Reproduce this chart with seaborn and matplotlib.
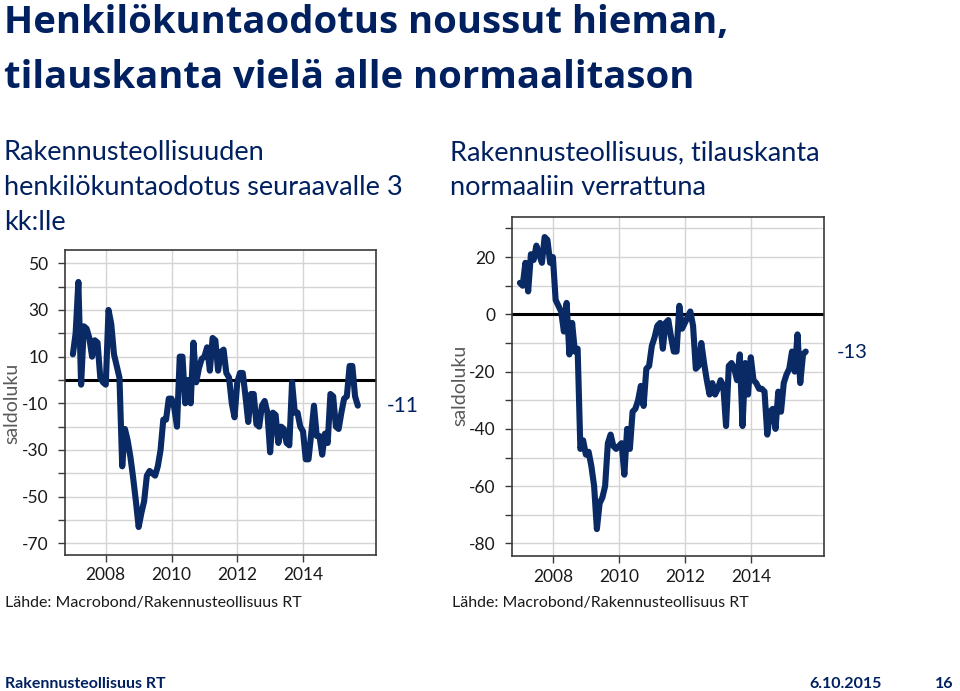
import numpy as np
import pandas as pd
import matplotlib
matplotlib.use("Agg")
import matplotlib.pyplot as plt
import seaborn as sns

# ---------------- data ----------------
start_month = "2007-01"
n_months = 105

staff_expectation = [
    11, 20, 42, -2, 23, 22, 18, 10, 17, 16, 1, -1, -2, 30, 24, 11, 6, 1, -37, -21,
    -26, -33, -42, -52, -63, -57, -52, -41, -39, -40, -41, -37, -30, -17, -17, -8, -8, -12, -20, 10,
    10, -10, 0, -10, 16, -1, 5, 9, 10, 14, 4, 18, 17, 4, 12, 13, 3, 1, -10, -16,
    -1, 3, 3, -7, -18, -6, -6, -19, -20, -11, -9, -14, -31, -14, -15, -27, -20, -21, -27, -28,
    -1, -14, -14, -20, -22, -34, -34, -23, -11, -24, -24, -32, -23, -27, -6, -7, -20, -21, -14, -8,
    -7, 6, 6, -7, -11,
]

order_book = [
    11, 10, 18, 8, 21, 19, 24, 21, 18, 27, 26, 18, 20, 5, 3, 1, -6, 4, -14, -3,
    -13, -12, -47, -44, -49, -48, -53, -60, -75, -66, -64, -60, -45, -42, -46, -47, -46, -45, -56, -40,
    -47, -34, -33, -30, -25, -32, -19, -18, -11, -8, -4, -3, -12, -3, -2, -8, -13, -13, 3, -5,
    -3, -1, 1, -4, -19, -18, -10, -17, -23, -28, -24, -28, -26, -23, -25, -39, -18, -17, -19, -23,
    -14, -39, -17, -28, -15, -23, -24, -26, -26, -27, -42, -34, -33, -40, -27, -34, -24, -21, -19, -13,
    -20, -7, -24, -14, -13,
]

year_ticks = [2008, 2010, 2012, 2014]
left_yticks = [50, 40, 30, 20, 10, 0, -10, -20, -30, -40, -50, -60, -70]
left_ylabels = ["50", "", "30", "", "10", "", "-10", "", "-30", "", "-50", "", "-70"]
right_yticks = [30, 20, 10, 0, -10, -20, -30, -40, -50, -60, -70, -80]
right_ylabels = ["", "20", "", "0", "", "-20", "", "-40", "", "-60", "", "-80"]

title_lines = ["Henkilökuntaodotus noussut hieman,", "tilauskanta vielä alle normaalitason"]
left_subtitle = ["Rakennusteollisuuden", "henkilökuntaodotus seuraavalle 3", "kk:lle"]
right_subtitle = ["Rakennusteollisuus, tilauskanta", "normaaliin verrattuna"]
source_text = "Lähde: Macrobond/Rakennusteollisuus RT"
footer_left = "Rakennusteollisuus RT"
footer_date = "6.10.2015"
footer_page = "16"
y_label = "saldoluku"
left_last_label = "-11"
right_last_label = "-13"

# ---------------- build table ----------------
dates = pd.date_range(start_month, periods=n_months, freq="MS")
t = dates.year + (dates.month - 1) / 12.0
df_left = pd.DataFrame({"t": t, "value": staff_expectation})
df_right = pd.DataFrame({"t": t, "value": order_book})

# ---------------- style ----------------
sns.set_theme(style="white")
plt.rcParams["font.family"] = ["Lato", "DejaVu Sans"]

W, H = 960, 691
fig = plt.figure(figsize=(W / 100, H / 100), dpi=100)
NAVY = "#002060"
LINE = "#0a2a66"
GRID = "#d4d4d4"
TXT = "#1a1a1a"


def px_axes(x0, y0, x1, y1):
    return fig.add_axes([x0 / W, 1 - y1 / H, (x1 - x0) / W, (y1 - y0) / H])


def ftext(x, y, s, **kw):
    fig.text(x / W, 1 - y / H, s, **kw)


def style_axis(ax, yticks, ylabels, ylim):
    ax.set_xlim(2006.76, 2016.22)
    ax.set_ylim(*ylim)
    ax.set_xticks(year_ticks)
    ax.set_xticklabels([str(y) for y in year_ticks])
    ax.set_yticks(yticks)
    ax.set_yticklabels(ylabels)
    ax.grid(True, color=GRID, lw=1.0)
    ax.set_axisbelow(True)
    ax.axhline(0, color="black", lw=2.2, zorder=2)
    for sp in ax.spines.values():
        sp.set_color("#3a3a3a")
        sp.set_linewidth(1.2)
        sp.set_visible(True)
    ax.tick_params(axis="both", direction="out", length=5, width=1, color="#3a3a3a",
                   labelsize=12.5, labelcolor=TXT, bottom=True, left=True)
    ax.tick_params(axis="y", pad=7)
    ax.tick_params(axis="x", pad=4)
    ax.set_xlabel("")
    ax.set_ylabel("")


ax1 = px_axes(65, 250, 376, 555)
sns.lineplot(data=df_left, x="t", y="value", ax=ax1, color=LINE, lw=4.4, zorder=3)
style_axis(ax1, left_yticks, left_ylabels, (-75, 55.7))

ax2 = px_axes(512, 217, 824, 556)
sns.lineplot(data=df_right, x="t", y="value", ax=ax2, color=LINE, lw=4.4, zorder=3)
style_axis(ax2, right_yticks, right_ylabels, (-84.4, 34))

# ---------------- texts ----------------
title_font = ["Open Sans", "DejaVu Sans"]
ftext(4, 33, title_lines[0], fontsize=27.5, fontweight="bold", color=NAVY,
      va="baseline", family=title_font)
ftext(4, 88, title_lines[1], fontsize=27.5, fontweight="bold", color=NAVY,
      va="baseline", family=title_font)

for k, line in enumerate(left_subtitle):
    ftext(4, 153 + 34.5 * k, line, fontsize=19.5, color=NAVY, va="center")
for k, line in enumerate(right_subtitle):
    ftext(450, 153 + 34.5 * k, line, fontsize=19.5, color=NAVY, va="center")

ftext(12, 403, y_label, fontsize=14, color="#595959", rotation=90, ha="center", va="center")
ftext(460, 385, y_label, fontsize=14, color="#595959", rotation=90, ha="center", va="center")

ftext(403, 406, left_last_label, fontsize=15, color=NAVY, ha="center", va="center")
ftext(852, 353, right_last_label, fontsize=14.5, color=NAVY, ha="center", va="center")

ftext(5, 603, source_text, fontsize=11.5, color=TXT, va="center")
ftext(452, 603, source_text, fontsize=11.5, color=TXT, va="center")

ftext(5, 684, footer_left, fontsize=11.5, fontweight="bold", color=NAVY, va="center")
ftext(882, 684, footer_date, fontsize=11.5, fontweight="bold", color=NAVY, va="center", ha="right")
ftext(953, 684, footer_page, fontsize=11.5, fontweight="bold", color=NAVY, va="center", ha="right")

fig.savefig("out.png", dpi=100)
